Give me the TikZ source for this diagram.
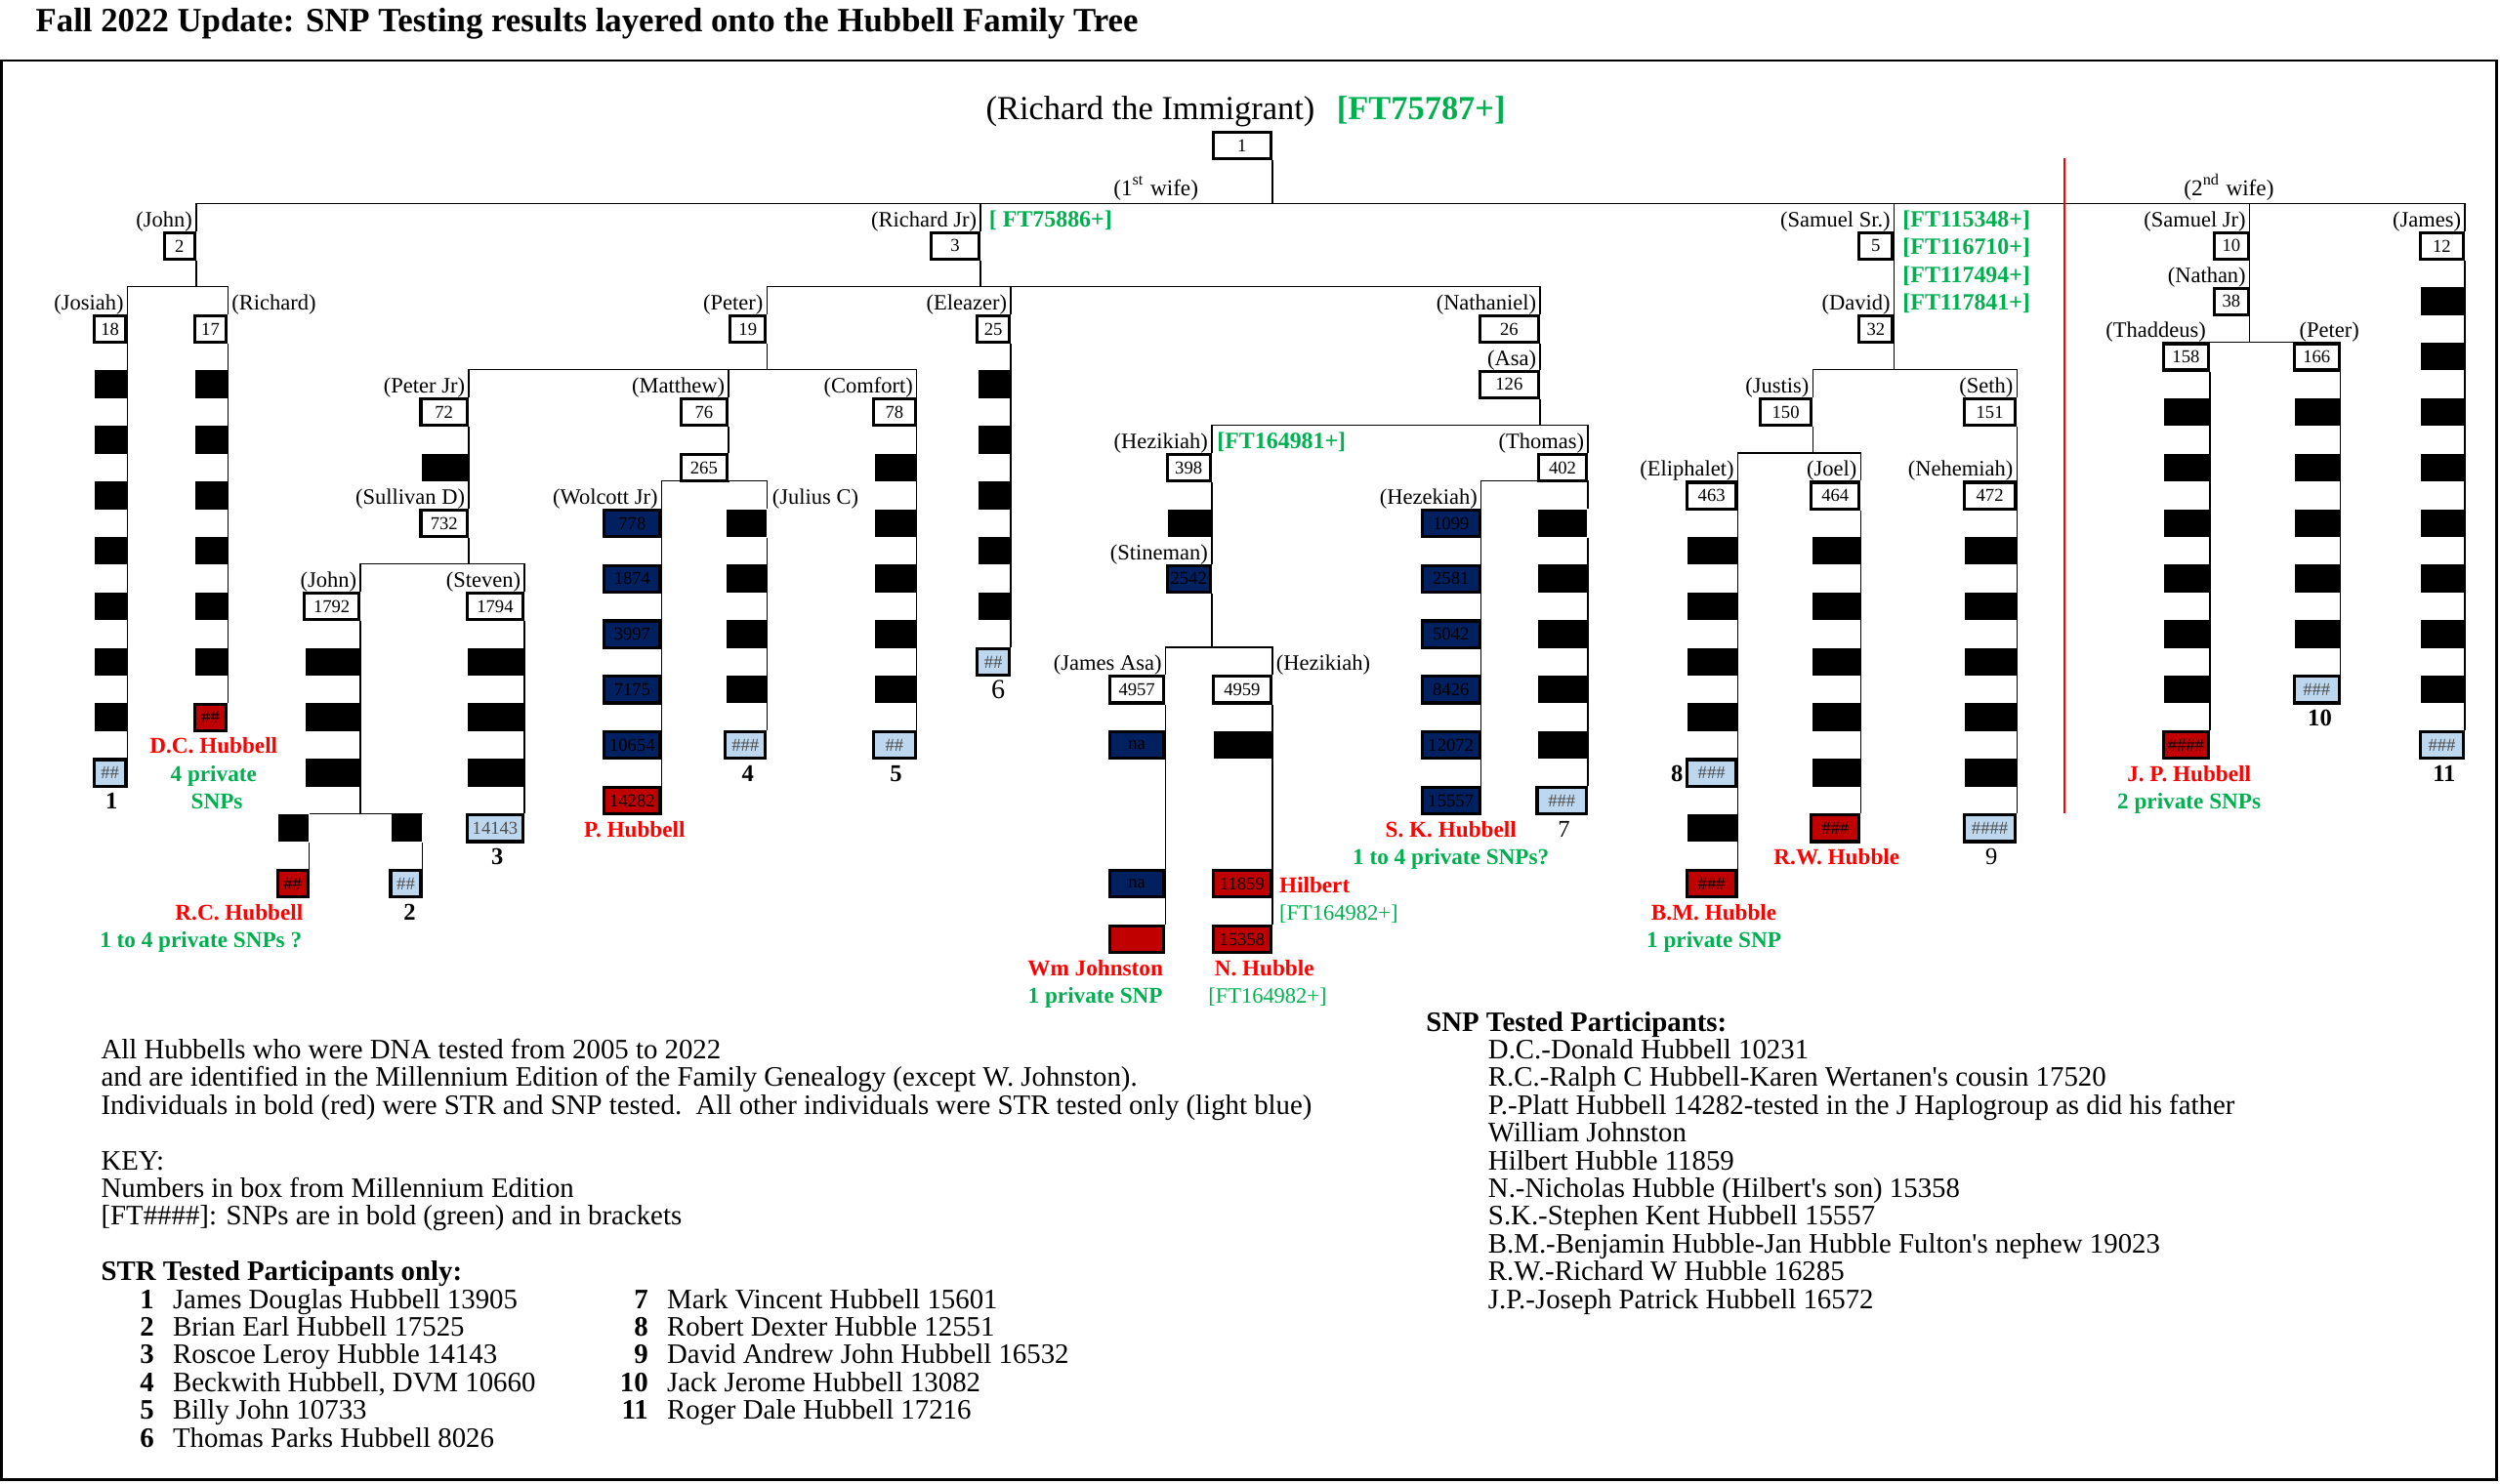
\documentclass[tikz,border=0pt]{standalone}
\usepackage{fontspec}
\setmainfont{Liberation Serif}
\usetikzlibrary{backgrounds}

\definecolor{ftgreen}{RGB}{0,176,80}
\definecolor{lblred}{RGB}{255,0,0}
\definecolor{snpred}{RGB}{192,0,0}
\definecolor{strnavy}{RGB}{0,32,96}
\definecolor{strblue}{RGB}{189,215,238}
\newlength\px
\setlength\px{0.0163265cm}

\tikzset{
  tline/.style={line width=0.8pt},
  nb/.style={draw, line width=0.9pt, fill=white, anchor=north east, inner sep=0pt,
    minimum width=#1*\px, minimum height=16.6*\px, font=\fontsize{5.3}{6}\selectfont},
  blk/.style={fill=black, anchor=north east, inner sep=0pt,
    minimum width=#1*\px, minimum height=17.4*\px},
  navy/.style={nb=#1, fill=strnavy, text=black},
  snp/.style={nb=#1, fill=snpred, text=black},
  str/.style={nb=#1, fill=strblue, text=black!70},
  who/.style={inner sep=0pt, font=\fontsize{6.4}{7}\selectfont, text height=1.5ex, text depth=.3ex},
  ftag/.style={who, text=ftgreen, font=\bfseries\fontsize{6.8}{8}\selectfont},
  tester/.style={who, text=lblred, font=\bfseries\fontsize{6.6}{8}\selectfont},
  priv/.style={who, text=ftgreen, font=\bfseries\fontsize{6.6}{8}\selectfont},
  pno/.style={who, font=\bfseries\fontsize{7}{8}\selectfont},
  body/.style={inner sep=0pt, anchor=west, font=\fontsize{8.2}{9}\selectfont, text height=1.5ex, text depth=.3ex},
}

\begin{document}
\begin{tikzpicture}[x=0.0163265cm, y=-0.284082cm]
\useasboundingbox (0,-8.333) rectangle (1568,45.14);

% Title and frame
\node[who, font=\bfseries\fontsize{9.9}{11}\selectfont, anchor=west] (title) at (22,-7.53) {Fall 2022 Update: SNP Testing results layered onto the Hubbell Family Tree};
\draw[line width=0.8pt] (1,-6.15) rectangle (1566,45.0);

% Richard the Immigrant
\node[who, font=\fontsize{9.8}{11}\selectfont, anchor=west] (tImm) at (618,-4.37) {(Richard the Immigrant)};
\node[ftag, font=\bfseries\fontsize{9.8}{11}\selectfont, anchor=west] (ftImm) at (838,-4.37) {[FT75787+]};
\node[nb=36] (n1) at (798,-3.62) {1};
\node[who, font=\fontsize{6.6}{8}\selectfont] (wife1) at (725,-1.62) {(1\textsuperscript{st} wife)};
\node[who, font=\fontsize{6.6}{8}\selectfont] (wife2) at (1398,-1.62) {(2\textsuperscript{nd} wife)};

% Sons
\node[nb=19] (n2) at (123,0) {2};
\node[nb=30] (n3) at (615,0) {3};
\node[nb=21] (n5) at (1188,0) {5};
\node[nb=21] (n10) at (1411,0) {10};
\node[nb=27] (n12) at (1546,0) {12};
\node[who, anchor=east] (lJohn) at (121,-0.5) {(John)};
\node[who, anchor=east] (lRJr) at (613,-0.5) {(Richard Jr)};
\node[ftag, anchor=west] (ftRJr) at (620,-0.5) {[ FT75886+]};
\node[who, anchor=east] (lSSr) at (1186,-0.5) {(Samuel Sr.)};
\node[who, anchor=east] (lSJr) at (1409,-0.5) {(Samuel Jr)};
\node[who, anchor=east] (lJames) at (1544,-0.5) {(James)};
\node[ftag, anchor=west] (ft1) at (1193,-0.5) {[FT115348+]};
\node[ftag, anchor=west] (ft2) at (1193,0.5) {[FT116710+]};
\node[ftag, anchor=west] (ft3) at (1193,1.5) {[FT117494+]};
\node[ftag, anchor=west] (ft4) at (1193,2.5) {[FT117841+]};

% John: Josiah and Richard
\node[nb=20] (n18) at (80,3) {18};
\node[nb=20] (n17) at (143,3) {17};
\node[who, anchor=east] (lJosiah) at (78,2.5) {(Josiah)};
\node[who, anchor=west] (lRich) at (145,2.5) {(Richard)};
\foreach \r in {5,7,...,17} \node[blk=20] (jos\r) at (80,\r) {};
\node[str=20] (p1) at (80,19) {\#\#};
\foreach \r in {5,7,...,15} \node[blk=20] (ric\r) at (143,\r) {};
\node[snp=20] (sDC) at (143,17) {\#\#};
\node[pno] (no1) at (70,20.5) {1};
\node[tester] (tDC) at (134,18.5) {D.C. Hubbell};
\node[priv] (pDC1) at (134,19.5) {4 private};
\node[priv] (pDC2) at (136,20.5) {SNPs};

% Richard Jr: Peter, Eleazer, Nathaniel
\node[nb=22] (n19) at (481,3) {19};
\node[nb=20] (n25) at (634,3) {25};
\node[nb=37] (n26) at (966,3) {26};
\node[nb=37] (n126) at (966,5) {126};
\node[who, anchor=east] (lPeter) at (479,2.5) {(Peter)};
\node[who, anchor=east] (lEle) at (632,2.5) {(Eleazer)};
\node[who, anchor=east] (lNath) at (964,2.5) {(Nathaniel)};
\node[who, anchor=east] (lAsa) at (964,4.5) {(Asa)};
\foreach \r in {5,7,...,13} \node[blk=20] (ele\r) at (634,\r) {};
\node[str=20] (p6) at (634,15) {\#\#};
\node[who, font=\fontsize{8}{9}\selectfont] (no6) at (626,16.5) {6};

% Peter: Peter Jr, Matthew, Comfort
\node[nb=29] (n72) at (294,6) {72};
\node[blk=29] (pj8) at (294,8) {};
\node[nb=29] (n732) at (294,10) {732};
\node[nb=29] (n76) at (457,6) {76};
\node[nb=29] (n265) at (457,8) {265};
\node[nb=26] (n78) at (575,6) {78};
\node[who, anchor=east] (lPJr) at (292,5.5) {(Peter Jr)};
\node[who, anchor=east] (lSull) at (292,9.5) {(Sullivan D)};
\node[who, anchor=east] (lMatt) at (455,5.5) {(Matthew)};
\node[who, anchor=east] (lComf) at (573,5.5) {(Comfort)};
\foreach \r in {8,10,...,16} \node[blk=26] (com\r) at (575,\r) {};
\node[str=26] (p5) at (575,18) {\#\#};
\node[pno] (no5) at (562,19.5) {5};

% Matthew: Wolcott Jr and Julius C
\node[who, anchor=east] (lWolc) at (413,9.5) {(Wolcott Jr)};
\node[who, anchor=west] (lJul) at (484,9.5) {(Julius C)};
\foreach \r/\v in {10/778,12/1874,14/3997,16/7175,18/10654} \node[navy=35] (w\v) at (415,\r) {\v};
\node[snp=35] (sP) at (415,20) {14282};
\node[tester] (tP) at (398,21.5) {P. Hubbell};
\foreach \r in {10,12,14,16} \node[blk=25] (jul\r) at (481,\r) {};
\node[str=25] (p4) at (481,18) {\#\#\#};
\node[pno] (no4) at (469,19.5) {4};

% Sullivan D: John and Steven
\node[nb=34] (n1792) at (226,13) {1792};
\node[nb=35] (n1794) at (329,13) {1794};
\node[who, anchor=east] (lJohn2) at (224,12.5) {(John)};
\node[who, anchor=east] (lStev) at (327,12.5) {(Steven)};
\foreach \r in {15,17,19} \node[blk=34] (jn\r) at (226,\r) {};
\foreach \r in {15,17,19} \node[blk=35] (stv\r) at (329,\r) {};
\node[str=35] (p3) at (329,21) {14143};
\node[pno] (no3) at (312,22.5) {3};
\node[blk=19] (rc21) at (194,21) {};
\node[snp=19] (sRC) at (194,23) {\#\#};
\node[blk=19] (bb21) at (265,21) {};
\node[str=19] (p2) at (265,23) {\#\#};
\node[tester] (tRC) at (150,24.5) {R.C. Hubbell};
\node[priv] (pRC) at (126,25.5) {1 to 4 private SNPs ?};
\node[pno] (no2) at (257,24.5) {2};

% Asa: Hezikiah and Thomas
\node[nb=27] (n398) at (760,8) {398};
\node[blk=27] (hz10) at (760,10) {};
\node[navy=27] (w2542) at (760,12) {2542};
\node[nb=30] (n402) at (996,8) {402};
\node[who, anchor=east] (lHez) at (758,7.5) {(Hezikiah)};
\node[ftag, anchor=west] (ftHez) at (763,7.5) {[FT164981+]};
\node[who, anchor=east] (lThom) at (994,7.5) {(Thomas)};
\node[who, anchor=east] (lStin) at (758,11.5) {(Stineman)};

% Stineman: James Asa and Hezikiah
\node[nb=34] (n4957) at (731,16) {4957};
\node[navy=34] (na18) at (731,18) {na};
\node[navy=34] (na23) at (731,23) {na};
\node[snp=34] (sWJ) at (731,25) {};
\node[nb=36] (n4959) at (798,16) {4959};
\node[blk=36] (hb18) at (798,18) {};
\node[snp=36] (sHil) at (798,23) {11859};
\node[snp=36] (sNH) at (798,25) {15358};
\node[who, anchor=east] (lJAsa) at (729,15.5) {(James Asa)};
\node[who, anchor=west] (lHez2) at (800,15.5) {(Hezikiah)};
\node[tester, anchor=west] (tHil) at (802,23.5) {Hilbert};
\node[ftag, font=\fontsize{6.4}{8}\selectfont, anchor=west] (ftHil) at (802,24.5) {[FT164982+]};
\node[tester] (tWJ) at (687,26.5) {Wm Johnston};
\node[priv] (pWJ) at (687,27.5) {1 private SNP};
\node[tester] (tNH) at (793,26.5) {N. Hubble};
\node[ftag, font=\fontsize{6.4}{8}\selectfont] (ftNH) at (795,27.5) {[FT164982+]};

% Thomas: Hezekiah and the line of 7
\node[who, anchor=east] (lHezk) at (927,9.5) {(Hezekiah)};
\foreach \r/\v in {10/1099,12/2581,14/5042,16/8426,18/12072} \node[navy=36] (w\v) at (929,\r) {\v};
\node[navy=36] (sSK) at (929,20) {15557};
\node[tester] (tSK) at (910,21.5) {S. K. Hubbell};
\node[priv] (pSK) at (910,22.5) {1 to 4 private SNPs?};
\foreach \r in {10,12,...,18} \node[blk=31] (th\r) at (996,\r) {};
\node[str=31] (p7) at (996,20) {\#\#\#};
\node[who, font=\fontsize{7}{8}\selectfont] (no7) at (981,21.5) {7};

% Samuel Sr: David, Justis, Seth
\node[nb=21] (n32) at (1188,3) {32};
\node[who, anchor=east] (lDav) at (1186,2.5) {(David)};
\node[nb=32] (n150) at (1137,6) {150};
\node[nb=32] (n151) at (1265,6) {151};
\node[who, anchor=east] (lJust) at (1135,5.5) {(Justis)};
\node[who, anchor=east] (lSeth) at (1263,5.5) {(Seth)};
\node[nb=32] (n472) at (1265,9) {472};
\node[who, anchor=east] (lNeh) at (1263,8.5) {(Nehemiah)};
\foreach \r in {11,13,...,19} \node[blk=32] (neh\r) at (1265,\r) {};
\node[str=32] (p9) at (1265,21) {\#\#\#\#};
\node[who, font=\fontsize{7}{8}\selectfont] (no9) at (1249,22.5) {9};

% Justis: Eliphalet and Joel
\node[nb=31] (n463) at (1090,9) {463};
\node[nb=30] (n464) at (1167,9) {464};
\node[who, anchor=east] (lEli) at (1088,8.5) {(Eliphalet)};
\node[who, anchor=east] (lJoel) at (1165,8.5) {(Joel)};
\foreach \r in {11,13,15,17,21} \node[blk=31] (eli\r) at (1090,\r) {};
\node[str=31] (p8) at (1090,19) {\#\#\#};
\node[pno, anchor=east] (no8) at (1056,19.5) {8};
\node[snp=31] (sBM) at (1090,23) {\#\#\#};
\node[tester] (tBM) at (1075,24.5) {B.M. Hubble};
\node[priv] (pBM) at (1075,25.5) {1 private SNP};
\foreach \r in {11,13,...,19} \node[blk=30] (joe\r) at (1167,\r) {};
\node[snp=30] (sRW) at (1167,21) {\#\#\#};
\node[tester] (tRW) at (1152,22.5) {R.W. Hubble};

% Samuel Jr (2nd wife): Nathan, Thaddeus, Peter
\node[who, anchor=east] (lNathan) at (1409,1.5) {(Nathan)};
\node[nb=21] (n38) at (1411,2) {38};
\node[nb=28] (n158) at (1386,4) {158};
\node[nb=28] (n166) at (1468,4) {166};
\node[who, anchor=east] (lThad) at (1384,3.5) {(Thaddeus)};
\node[who] (lPet2) at (1461,3.5) {(Peter)};
\foreach \r in {6,8,...,16} \node[blk=28] (tha\r) at (1386,\r) {};
\node[snp=28] (sJP) at (1386,18) {\#\#\#\#};
\node[tester] (tJP) at (1373,19.5) {J. P. Hubbell};
\node[priv] (pJP) at (1373,20.5) {2 private SNPs};
\foreach \r in {6,8,...,14} \node[blk=28] (pe\r) at (1468,\r) {};
\node[str=28] (p10) at (1468,16) {\#\#\#};
\node[pno] (no10) at (1455,17.5) {10};

% James
\foreach \r in {2,4,...,16} \node[blk=27] (jam\r) at (1546,\r) {};
\node[str=27] (p11) at (1546,18) {\#\#\#};
\node[pno] (no11) at (1533,19.5) {11};

% Tree lines
\begin{scope}[on background layer, tline]
  \coordinate (j1) at (798,-1);
  \draw (n1.south east) -- (j1) -| (n2.north east);
  \draw (j1) -| (n3.north east);
  \draw (j1) -| (n5.north east);
  \draw (j1) -| (n10.north east);
  \draw (j1) -| (n12.north east);
  \coordinate (j2) at (123,2);
  \draw (n2.south east) -- (j2) -| (n18.north east);
  \draw (j2) -| (n17.north east);
  \draw (n18.south east) -- (p1.north east);
  \draw (n17.south east) -- (sDC.north east);
  \coordinate (j3) at (615,2);
  \draw (n3.south east) -- (j3) -| (n19.north east);
  \draw (j3) -| (n25.north east);
  \draw (j3) -| (n26.north east);
  \draw (n25.south east) -- (p6.north east);
  \draw (n26.south east) -- (n126.north east);
  \coordinate (j19) at (481,5);
  \draw (n19.south east) -- (j19) -| (n72.north east);
  \draw (j19) -| (n76.north east);
  \draw (j19) -| (n78.north east);
  \draw (n72.south east) -- (n732.north east);
  \draw (n76.south east) -- (n265.north east);
  \draw (n78.south east) -- (p5.north east);
  \coordinate (j265) at (457,9);
  \draw (n265.south east) -- (j265) -| (w778.north east);
  \draw (j265) -| (jul10.north east);
  \draw (w778.south east) -- (sP.north east);
  \draw (jul10.south east) -- (p4.north east);
  \coordinate (j732) at (294,12);
  \draw (n732.south east) -- (j732) -| (n1792.north east);
  \draw (j732) -| (n1794.north east);
  \draw (n1794.south east) -- (p3.north east);
  \coordinate (j1792) at (226,21);
  \draw (n1792.south east) -- (j1792) -| (rc21.north east);
  \draw (j1792) -| (bb21.north east);
  \draw (rc21.south east) -- (sRC.north east);
  \draw (bb21.south east) -- (p2.north east);
  \coordinate (j126) at (966,7);
  \draw (n126.south east) -- (j126) -| (n398.north east);
  \draw (j126) -| (n402.north east);
  \draw (n398.south east) -- (w2542.north east);
  \coordinate (j2542) at (760,15);
  \draw (w2542.south east) -- (j2542) -| (n4957.north east);
  \draw (j2542) -| (n4959.north east);
  \draw (n4957.south east) -- (sWJ.north east);
  \draw (n4959.south east) -- (sNH.north east);
  \coordinate (j402) at (996,9);
  \draw (n402.south east) -- (j402) -| (w1099.north east);
  \draw (j402) -| (th10.north east);
  \draw (w1099.south east) -- (sSK.north east);
  \draw (th10.south east) -- (p7.north east);
  \draw (n5.south east) -- (n32.north east);
  \coordinate (j32) at (1188,5);
  \draw (n32.south east) -- (j32) -| (n150.north east);
  \draw (j32) -| (n151.north east);
  \draw (n151.south east) -- (p9.north east);
  \coordinate (j150) at (1137,8);
  \draw (n150.south east) -- (j150) -| (n463.north east);
  \draw (j150) -| (n464.north east);
  \draw (n463.south east) -- (sBM.north east);
  \draw (n464.south east) -- (sRW.north east);
  \draw (n10.south east) -- (n38.north east);
  \coordinate (j38) at (1411,4);
  \draw (n38.south east) -- (j38) -| (n158.north east);
  \draw (j38) -| (n166.north east);
  \draw (n158.south east) -- (sJP.north east);
  \draw (n166.south east) -- (p10.north east);
  \draw (n12.south east) -- (p11.north east);
  % divider between the two wives
  \coordinate (rtop) at (1295,-2.64);
  \coordinate (rbot) at (1295,21);
  \draw[lblred, line width=0.5pt] (rtop) -- (rbot);
\end{scope}

% Notes
\node[body] (txt1) at (63,29.5) {All Hubbells who were DNA tested from 2005 to 2022};
\node[body] (txt2) at (63,30.5) {and are identified in the Millennium Edition of the Family Genealogy (except W. Johnston).};
\node[body] (txt3) at (63,31.5) {Individuals in bold (red) were STR and SNP tested.\ \ All other individuals were STR tested only (light blue)};
\node[body] (key1) at (63,33.5) {KEY:};
\node[body] (key2) at (63,34.5) {Numbers in box from Millennium Edition};
\node[body] (key3) at (63,35.5) {[FT\#\#\#\#]: SNPs are in bold (green) and in brackets};
\node[body, font=\bfseries\fontsize{8.2}{9}\selectfont] (strhead) at (63,37.5) {STR Tested Participants only:};
\foreach \i/\t [count=\k] in {1/James Douglas Hubbell 13905, 2/Brian Earl Hubbell 17525,
    3/Roscoe Leroy Hubble 14143, 4/{Beckwith Hubbell, DVM 10660}, 5/Billy John 10733,
    6/Thomas Parks Hubbell 8026} {
  \node[body, anchor=east, font=\bfseries\fontsize{8.2}{9}\selectfont] (sa\i) at (97,37.5+\k) {\i};
  \node[body] (sn\i) at (108,37.5+\k) {\t};
}
\foreach \i/\t [count=\k] in {7/Mark Vincent Hubbell 15601, 8/Robert Dexter Hubble 12551,
    9/David Andrew John Hubbell 16532, 10/Jack Jerome Hubbell 13082, 11/Roger Dale Hubbell 17216} {
  \node[body, anchor=east, font=\bfseries\fontsize{8.2}{9}\selectfont] (sa\i) at (407,37.5+\k) {\i};
  \node[body] (sn\i) at (418,37.5+\k) {\t};
}
\node[body, font=\bfseries\fontsize{8.2}{9}\selectfont] (snphead) at (894,28.5) {SNP Tested Participants:};
\foreach \t [count=\k] in {D.C.-Donald Hubbell 10231,
    R.C.-Ralph C Hubbell-Karen Wertanen\textquotesingle s cousin 17520,
    P.-Platt Hubbell 14282-tested in the J Haplogroup as did his father,
    William Johnston, Hilbert Hubble 11859,
    N.-Nicholas Hubble (Hilbert\textquotesingle s son) 15358,
    S.K.-Stephen Kent Hubbell 15557,
    B.M.-Benjamin Hubble-Jan Hubble Fulton\textquotesingle s nephew 19023,
    R.W.-Richard W Hubble 16285, J.P.-Joseph Patrick Hubbell 16572} {
  \node[body] (snp\k) at (933,28.5+\k) {\t};
}
\end{tikzpicture}
\end{document}
